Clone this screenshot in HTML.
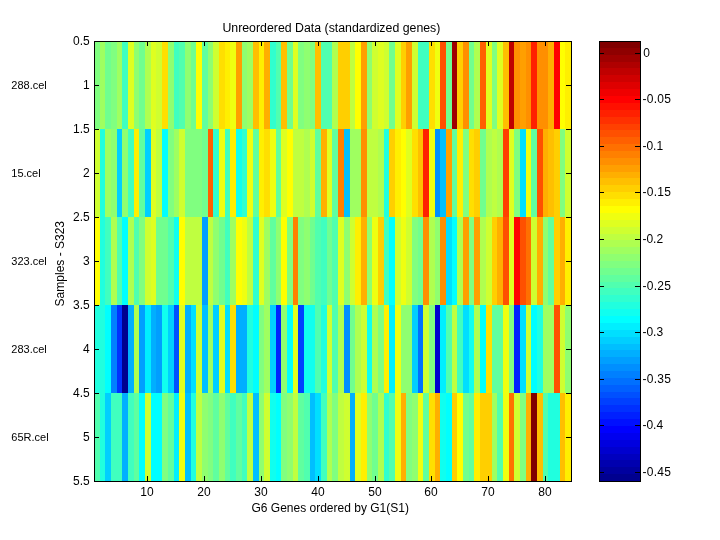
<!DOCTYPE html>
<html><head><meta charset="utf-8"><title>Unreordered Data (standardized genes)</title>
<style>html,body{margin:0;padding:0;background:#fff}body{width:720px;height:540px;overflow:hidden}svg{display:block}text{font-family:"Liberation Sans",Arial,Helvetica,sans-serif;fill:#000}</style>
</head><body>
<svg width="720" height="540" viewBox="0 0 720 540">
<rect x="0" y="0" width="720" height="540" fill="#ffffff"/>
<g shape-rendering="crispEdges">
<rect x="94" y="41" width="6" height="88" fill="#80ff80"/>
<rect x="100" y="41" width="5" height="88" fill="#9fff60"/>
<rect x="105" y="41" width="6" height="88" fill="#70ff8f"/>
<rect x="111" y="41" width="6" height="88" fill="#80ff80"/>
<rect x="117" y="41" width="5" height="88" fill="#9fff60"/>
<rect x="122" y="41" width="6" height="88" fill="#40ffbf"/>
<rect x="128" y="41" width="6" height="88" fill="#dfff20"/>
<rect x="134" y="41" width="5" height="88" fill="#8fff70"/>
<rect x="139" y="41" width="6" height="88" fill="#70ff8f"/>
<rect x="145" y="41" width="6" height="88" fill="#afff50"/>
<rect x="151" y="41" width="5" height="88" fill="#dfff20"/>
<rect x="156" y="41" width="6" height="88" fill="#cfff30"/>
<rect x="162" y="41" width="6" height="88" fill="#ffdf00"/>
<rect x="168" y="41" width="6" height="88" fill="#8fff70"/>
<rect x="174" y="41" width="5" height="88" fill="#40ffbf"/>
<rect x="179" y="41" width="6" height="88" fill="#50ffaf"/>
<rect x="185" y="41" width="6" height="88" fill="#8fff70"/>
<rect x="191" y="41" width="5" height="88" fill="#70ff8f"/>
<rect x="196" y="41" width="6" height="88" fill="#ffff00"/>
<rect x="202" y="41" width="6" height="88" fill="#60ff9f"/>
<rect x="208" y="41" width="5" height="88" fill="#8fff70"/>
<rect x="213" y="41" width="6" height="88" fill="#cfff30"/>
<rect x="219" y="41" width="6" height="88" fill="#ffdf00"/>
<rect x="225" y="41" width="5" height="88" fill="#ffef00"/>
<rect x="230" y="41" width="6" height="88" fill="#efff10"/>
<rect x="236" y="41" width="6" height="88" fill="#ff9f00"/>
<rect x="242" y="41" width="5" height="88" fill="#8fff70"/>
<rect x="247" y="41" width="6" height="88" fill="#9fff60"/>
<rect x="253" y="41" width="6" height="88" fill="#ffbf00"/>
<rect x="259" y="41" width="5" height="88" fill="#ffef00"/>
<rect x="264" y="41" width="6" height="88" fill="#ffaf00"/>
<rect x="270" y="41" width="6" height="88" fill="#30ffcf"/>
<rect x="276" y="41" width="5" height="88" fill="#50ffaf"/>
<rect x="281" y="41" width="6" height="88" fill="#ffbf00"/>
<rect x="287" y="41" width="6" height="88" fill="#70ff8f"/>
<rect x="293" y="41" width="5" height="88" fill="#dfff20"/>
<rect x="298" y="41" width="6" height="88" fill="#80ff80"/>
<rect x="304" y="41" width="6" height="88" fill="#8fff70"/>
<rect x="310" y="41" width="5" height="88" fill="#80ff80"/>
<rect x="315" y="41" width="6" height="88" fill="#ffbf00"/>
<rect x="321" y="41" width="11" height="88" fill="#50ffaf"/>
<rect x="332" y="41" width="6" height="88" fill="#afff50"/>
<rect x="338" y="41" width="12" height="88" fill="#ffcf00"/>
<rect x="350" y="41" width="5" height="88" fill="#bfff40"/>
<rect x="355" y="41" width="6" height="88" fill="#ffff00"/>
<rect x="361" y="41" width="6" height="88" fill="#ff9f00"/>
<rect x="367" y="41" width="5" height="88" fill="#8fff70"/>
<rect x="372" y="41" width="6" height="88" fill="#cfff30"/>
<rect x="378" y="41" width="6" height="88" fill="#dfff20"/>
<rect x="384" y="41" width="5" height="88" fill="#cfff30"/>
<rect x="389" y="41" width="6" height="88" fill="#70ff8f"/>
<rect x="395" y="41" width="6" height="88" fill="#dfff20"/>
<rect x="401" y="41" width="5" height="88" fill="#ffcf00"/>
<rect x="406" y="41" width="6" height="88" fill="#ff9f00"/>
<rect x="412" y="41" width="6" height="88" fill="#cfff30"/>
<rect x="418" y="41" width="11" height="88" fill="#40ffbf"/>
<rect x="429" y="41" width="6" height="88" fill="#ffdf00"/>
<rect x="435" y="41" width="5" height="88" fill="#efff10"/>
<rect x="440" y="41" width="6" height="88" fill="#ff5000"/>
<rect x="446" y="41" width="6" height="88" fill="#70ff8f"/>
<rect x="452" y="41" width="5" height="88" fill="#9f0000"/>
<rect x="457" y="41" width="6" height="88" fill="#ffcf00"/>
<rect x="463" y="41" width="6" height="88" fill="#ff8f00"/>
<rect x="469" y="41" width="5" height="88" fill="#70ff8f"/>
<rect x="474" y="41" width="6" height="88" fill="#afff50"/>
<rect x="480" y="41" width="6" height="88" fill="#ff6000"/>
<rect x="486" y="41" width="6" height="88" fill="#dfff20"/>
<rect x="492" y="41" width="5" height="88" fill="#80ff80"/>
<rect x="497" y="41" width="6" height="88" fill="#dfff20"/>
<rect x="503" y="41" width="6" height="88" fill="#ffbf00"/>
<rect x="509" y="41" width="5" height="88" fill="#bf0000"/>
<rect x="514" y="41" width="6" height="88" fill="#ff8f00"/>
<rect x="520" y="41" width="6" height="88" fill="#ff9f00"/>
<rect x="526" y="41" width="5" height="88" fill="#ff8f00"/>
<rect x="531" y="41" width="6" height="88" fill="#ff2000"/>
<rect x="537" y="41" width="11" height="88" fill="#ff8f00"/>
<rect x="548" y="41" width="6" height="88" fill="#ffaf00"/>
<rect x="554" y="41" width="6" height="88" fill="#ff0000"/>
<rect x="560" y="41" width="5" height="88" fill="#ffff00"/>
<rect x="565" y="41" width="6" height="88" fill="#ffef00"/>
<rect x="94" y="129" width="6" height="88" fill="#cfff30"/>
<rect x="100" y="129" width="5" height="88" fill="#20ffdf"/>
<rect x="105" y="129" width="6" height="88" fill="#9fff60"/>
<rect x="111" y="129" width="6" height="88" fill="#8fff70"/>
<rect x="117" y="129" width="5" height="88" fill="#00cfff"/>
<rect x="122" y="129" width="6" height="88" fill="#8fff70"/>
<rect x="128" y="129" width="6" height="88" fill="#40ffbf"/>
<rect x="134" y="129" width="5" height="88" fill="#ffef00"/>
<rect x="139" y="129" width="6" height="88" fill="#60ff9f"/>
<rect x="145" y="129" width="6" height="88" fill="#00cfff"/>
<rect x="151" y="129" width="5" height="88" fill="#dfff20"/>
<rect x="156" y="129" width="6" height="88" fill="#bfff40"/>
<rect x="162" y="129" width="6" height="88" fill="#00ffff"/>
<rect x="168" y="129" width="6" height="88" fill="#80ff80"/>
<rect x="174" y="129" width="5" height="88" fill="#9fff60"/>
<rect x="179" y="129" width="6" height="88" fill="#cfff30"/>
<rect x="185" y="129" width="17" height="88" fill="#80ff80"/>
<rect x="202" y="129" width="6" height="88" fill="#70ff8f"/>
<rect x="208" y="129" width="5" height="88" fill="#ff6000"/>
<rect x="213" y="129" width="6" height="88" fill="#30ffcf"/>
<rect x="219" y="129" width="6" height="88" fill="#efff10"/>
<rect x="225" y="129" width="5" height="88" fill="#40ffbf"/>
<rect x="230" y="129" width="6" height="88" fill="#ffef00"/>
<rect x="236" y="129" width="6" height="88" fill="#10ffef"/>
<rect x="242" y="129" width="5" height="88" fill="#30ffcf"/>
<rect x="247" y="129" width="6" height="88" fill="#efff10"/>
<rect x="253" y="129" width="6" height="88" fill="#60ff9f"/>
<rect x="259" y="129" width="5" height="88" fill="#ffef00"/>
<rect x="264" y="129" width="6" height="88" fill="#ffdf00"/>
<rect x="270" y="129" width="6" height="88" fill="#efff10"/>
<rect x="276" y="129" width="5" height="88" fill="#60ff9f"/>
<rect x="281" y="129" width="6" height="88" fill="#dfff20"/>
<rect x="287" y="129" width="6" height="88" fill="#ffff00"/>
<rect x="293" y="129" width="11" height="88" fill="#bfff40"/>
<rect x="304" y="129" width="6" height="88" fill="#afff50"/>
<rect x="310" y="129" width="5" height="88" fill="#cfff30"/>
<rect x="315" y="129" width="6" height="88" fill="#60ff9f"/>
<rect x="321" y="129" width="6" height="88" fill="#ffaf00"/>
<rect x="327" y="129" width="5" height="88" fill="#dfff20"/>
<rect x="332" y="129" width="6" height="88" fill="#60ff9f"/>
<rect x="338" y="129" width="6" height="88" fill="#ff8000"/>
<rect x="344" y="129" width="6" height="88" fill="#00bfff"/>
<rect x="350" y="129" width="11" height="88" fill="#9fff60"/>
<rect x="361" y="129" width="6" height="88" fill="#ff8f00"/>
<rect x="367" y="129" width="11" height="88" fill="#bfff40"/>
<rect x="378" y="129" width="6" height="88" fill="#afff50"/>
<rect x="384" y="129" width="5" height="88" fill="#20ffdf"/>
<rect x="389" y="129" width="6" height="88" fill="#ffcf00"/>
<rect x="395" y="129" width="6" height="88" fill="#ffef00"/>
<rect x="401" y="129" width="5" height="88" fill="#ffff00"/>
<rect x="406" y="129" width="6" height="88" fill="#dfff20"/>
<rect x="412" y="129" width="6" height="88" fill="#ffdf00"/>
<rect x="418" y="129" width="5" height="88" fill="#ffbf00"/>
<rect x="423" y="129" width="6" height="88" fill="#ff2000"/>
<rect x="429" y="129" width="6" height="88" fill="#efff10"/>
<rect x="435" y="129" width="5" height="88" fill="#008fff"/>
<rect x="440" y="129" width="6" height="88" fill="#00bfff"/>
<rect x="446" y="129" width="6" height="88" fill="#ff9f00"/>
<rect x="452" y="129" width="5" height="88" fill="#60ff9f"/>
<rect x="457" y="129" width="6" height="88" fill="#ffef00"/>
<rect x="463" y="129" width="6" height="88" fill="#80ff80"/>
<rect x="469" y="129" width="5" height="88" fill="#ffdf00"/>
<rect x="474" y="129" width="6" height="88" fill="#ffcf00"/>
<rect x="480" y="129" width="6" height="88" fill="#70ff8f"/>
<rect x="486" y="129" width="6" height="88" fill="#afff50"/>
<rect x="492" y="129" width="5" height="88" fill="#bfff40"/>
<rect x="497" y="129" width="6" height="88" fill="#afff50"/>
<rect x="503" y="129" width="6" height="88" fill="#ff4000"/>
<rect x="509" y="129" width="5" height="88" fill="#dfff20"/>
<rect x="514" y="129" width="6" height="88" fill="#80ff80"/>
<rect x="520" y="129" width="6" height="88" fill="#00dfff"/>
<rect x="526" y="129" width="5" height="88" fill="#efff10"/>
<rect x="531" y="129" width="6" height="88" fill="#60ff9f"/>
<rect x="537" y="129" width="6" height="88" fill="#ff5000"/>
<rect x="543" y="129" width="5" height="88" fill="#ffaf00"/>
<rect x="548" y="129" width="6" height="88" fill="#ffbf00"/>
<rect x="554" y="129" width="6" height="88" fill="#ffcf00"/>
<rect x="560" y="129" width="5" height="88" fill="#80ff80"/>
<rect x="565" y="129" width="6" height="88" fill="#cfff30"/>
<rect x="94" y="217" width="6" height="88" fill="#ffff00"/>
<rect x="100" y="217" width="5" height="88" fill="#20ffdf"/>
<rect x="105" y="217" width="6" height="88" fill="#40ffbf"/>
<rect x="111" y="217" width="6" height="88" fill="#afff50"/>
<rect x="117" y="217" width="5" height="88" fill="#50ffaf"/>
<rect x="122" y="217" width="6" height="88" fill="#00ffff"/>
<rect x="128" y="217" width="6" height="88" fill="#afff50"/>
<rect x="134" y="217" width="5" height="88" fill="#50ffaf"/>
<rect x="139" y="217" width="6" height="88" fill="#80ff80"/>
<rect x="145" y="217" width="6" height="88" fill="#cfff30"/>
<rect x="151" y="217" width="5" height="88" fill="#dfff20"/>
<rect x="156" y="217" width="12" height="88" fill="#70ff8f"/>
<rect x="168" y="217" width="6" height="88" fill="#50ffaf"/>
<rect x="174" y="217" width="5" height="88" fill="#10ffef"/>
<rect x="179" y="217" width="6" height="88" fill="#ffff00"/>
<rect x="185" y="217" width="17" height="88" fill="#bfff40"/>
<rect x="202" y="217" width="6" height="88" fill="#009fff"/>
<rect x="208" y="217" width="5" height="88" fill="#bfff40"/>
<rect x="213" y="217" width="6" height="88" fill="#8fff70"/>
<rect x="219" y="217" width="6" height="88" fill="#70ff8f"/>
<rect x="225" y="217" width="5" height="88" fill="#40ffbf"/>
<rect x="230" y="217" width="6" height="88" fill="#9fff60"/>
<rect x="236" y="217" width="6" height="88" fill="#ffff00"/>
<rect x="242" y="217" width="5" height="88" fill="#efff10"/>
<rect x="247" y="217" width="6" height="88" fill="#bfff40"/>
<rect x="253" y="217" width="6" height="88" fill="#30ffcf"/>
<rect x="259" y="217" width="5" height="88" fill="#dfff20"/>
<rect x="264" y="217" width="6" height="88" fill="#9fff60"/>
<rect x="270" y="217" width="6" height="88" fill="#60ff9f"/>
<rect x="276" y="217" width="5" height="88" fill="#8fff70"/>
<rect x="281" y="217" width="6" height="88" fill="#ffff00"/>
<rect x="287" y="217" width="6" height="88" fill="#80ff80"/>
<rect x="293" y="217" width="5" height="88" fill="#ff8000"/>
<rect x="298" y="217" width="6" height="88" fill="#80ff80"/>
<rect x="304" y="217" width="6" height="88" fill="#8fff70"/>
<rect x="310" y="217" width="5" height="88" fill="#70ff8f"/>
<rect x="315" y="217" width="6" height="88" fill="#50ffaf"/>
<rect x="321" y="217" width="6" height="88" fill="#40ffbf"/>
<rect x="327" y="217" width="5" height="88" fill="#70ff8f"/>
<rect x="332" y="217" width="6" height="88" fill="#50ffaf"/>
<rect x="338" y="217" width="6" height="88" fill="#dfff20"/>
<rect x="344" y="217" width="6" height="88" fill="#8fff70"/>
<rect x="350" y="217" width="5" height="88" fill="#cfff30"/>
<rect x="355" y="217" width="6" height="88" fill="#ffef00"/>
<rect x="361" y="217" width="6" height="88" fill="#ffaf00"/>
<rect x="367" y="217" width="5" height="88" fill="#8fff70"/>
<rect x="372" y="217" width="6" height="88" fill="#efff10"/>
<rect x="378" y="217" width="6" height="88" fill="#ffcf00"/>
<rect x="384" y="217" width="5" height="88" fill="#40ffbf"/>
<rect x="389" y="217" width="6" height="88" fill="#00ffff"/>
<rect x="395" y="217" width="6" height="88" fill="#cfff30"/>
<rect x="401" y="217" width="5" height="88" fill="#efff10"/>
<rect x="406" y="217" width="6" height="88" fill="#cfff30"/>
<rect x="412" y="217" width="6" height="88" fill="#80ff80"/>
<rect x="418" y="217" width="5" height="88" fill="#70ff8f"/>
<rect x="423" y="217" width="6" height="88" fill="#ff8f00"/>
<rect x="429" y="217" width="6" height="88" fill="#afff50"/>
<rect x="435" y="217" width="5" height="88" fill="#8fff70"/>
<rect x="440" y="217" width="6" height="88" fill="#ff8f00"/>
<rect x="446" y="217" width="6" height="88" fill="#00dfff"/>
<rect x="452" y="217" width="5" height="88" fill="#00ffff"/>
<rect x="457" y="217" width="6" height="88" fill="#afff50"/>
<rect x="463" y="217" width="6" height="88" fill="#ff9f00"/>
<rect x="469" y="217" width="5" height="88" fill="#80ff80"/>
<rect x="474" y="217" width="6" height="88" fill="#ff9f00"/>
<rect x="480" y="217" width="6" height="88" fill="#afff50"/>
<rect x="486" y="217" width="6" height="88" fill="#cfff30"/>
<rect x="492" y="217" width="5" height="88" fill="#ffcf00"/>
<rect x="497" y="217" width="6" height="88" fill="#ffaf00"/>
<rect x="503" y="217" width="6" height="88" fill="#ff5000"/>
<rect x="509" y="217" width="5" height="88" fill="#dfff20"/>
<rect x="514" y="217" width="6" height="88" fill="#ff0000"/>
<rect x="520" y="217" width="6" height="88" fill="#ff5000"/>
<rect x="526" y="217" width="5" height="88" fill="#ff7000"/>
<rect x="531" y="217" width="6" height="88" fill="#cfff30"/>
<rect x="537" y="217" width="6" height="88" fill="#ffaf00"/>
<rect x="543" y="217" width="5" height="88" fill="#8fff70"/>
<rect x="548" y="217" width="6" height="88" fill="#60ff9f"/>
<rect x="554" y="217" width="6" height="88" fill="#ffcf00"/>
<rect x="560" y="217" width="5" height="88" fill="#ffaf00"/>
<rect x="565" y="217" width="6" height="88" fill="#ffef00"/>
<rect x="94" y="305" width="11" height="88" fill="#20ffdf"/>
<rect x="105" y="305" width="6" height="88" fill="#00ffff"/>
<rect x="111" y="305" width="6" height="88" fill="#0080ff"/>
<rect x="117" y="305" width="5" height="88" fill="#0030ff"/>
<rect x="122" y="305" width="6" height="88" fill="#00008f"/>
<rect x="128" y="305" width="6" height="88" fill="#00afff"/>
<rect x="134" y="305" width="5" height="88" fill="#afff50"/>
<rect x="139" y="305" width="6" height="88" fill="#009fff"/>
<rect x="145" y="305" width="6" height="88" fill="#00efff"/>
<rect x="151" y="305" width="5" height="88" fill="#00afff"/>
<rect x="156" y="305" width="6" height="88" fill="#009fff"/>
<rect x="162" y="305" width="6" height="88" fill="#10ffef"/>
<rect x="168" y="305" width="6" height="88" fill="#00cfff"/>
<rect x="174" y="305" width="5" height="88" fill="#0050ff"/>
<rect x="179" y="305" width="6" height="88" fill="#dfff20"/>
<rect x="185" y="305" width="6" height="88" fill="#00afff"/>
<rect x="191" y="305" width="5" height="88" fill="#00dfff"/>
<rect x="196" y="305" width="6" height="88" fill="#cfff30"/>
<rect x="202" y="305" width="6" height="88" fill="#00bfff"/>
<rect x="208" y="305" width="5" height="88" fill="#9fff60"/>
<rect x="213" y="305" width="6" height="88" fill="#00cfff"/>
<rect x="219" y="305" width="6" height="88" fill="#dfff20"/>
<rect x="225" y="305" width="5" height="88" fill="#00dfff"/>
<rect x="230" y="305" width="6" height="88" fill="#ffdf00"/>
<rect x="236" y="305" width="11" height="88" fill="#00afff"/>
<rect x="247" y="305" width="6" height="88" fill="#20ffdf"/>
<rect x="253" y="305" width="6" height="88" fill="#00ffff"/>
<rect x="259" y="305" width="5" height="88" fill="#80ff80"/>
<rect x="264" y="305" width="6" height="88" fill="#9fff60"/>
<rect x="270" y="305" width="6" height="88" fill="#00cfff"/>
<rect x="276" y="305" width="5" height="88" fill="#0020ff"/>
<rect x="281" y="305" width="6" height="88" fill="#8fff70"/>
<rect x="287" y="305" width="6" height="88" fill="#00ffff"/>
<rect x="293" y="305" width="5" height="88" fill="#dfff20"/>
<rect x="298" y="305" width="6" height="88" fill="#0040ff"/>
<rect x="304" y="305" width="11" height="88" fill="#10ffef"/>
<rect x="315" y="305" width="6" height="88" fill="#50ffaf"/>
<rect x="321" y="305" width="6" height="88" fill="#20ffdf"/>
<rect x="327" y="305" width="5" height="88" fill="#cfff30"/>
<rect x="332" y="305" width="6" height="88" fill="#50ffaf"/>
<rect x="338" y="305" width="6" height="88" fill="#afff50"/>
<rect x="344" y="305" width="6" height="88" fill="#008fff"/>
<rect x="350" y="305" width="5" height="88" fill="#70ff8f"/>
<rect x="355" y="305" width="6" height="88" fill="#afff50"/>
<rect x="361" y="305" width="6" height="88" fill="#cfff30"/>
<rect x="367" y="305" width="5" height="88" fill="#10ffef"/>
<rect x="372" y="305" width="6" height="88" fill="#afff50"/>
<rect x="378" y="305" width="6" height="88" fill="#80ff80"/>
<rect x="384" y="305" width="5" height="88" fill="#ffef00"/>
<rect x="389" y="305" width="6" height="88" fill="#00efff"/>
<rect x="395" y="305" width="6" height="88" fill="#efff10"/>
<rect x="401" y="305" width="11" height="88" fill="#8fff70"/>
<rect x="412" y="305" width="6" height="88" fill="#00cfff"/>
<rect x="418" y="305" width="5" height="88" fill="#0070ff"/>
<rect x="423" y="305" width="6" height="88" fill="#cfff30"/>
<rect x="429" y="305" width="6" height="88" fill="#80ff80"/>
<rect x="435" y="305" width="5" height="88" fill="#0000cf"/>
<rect x="440" y="305" width="6" height="88" fill="#00efff"/>
<rect x="446" y="305" width="6" height="88" fill="#50ffaf"/>
<rect x="452" y="305" width="5" height="88" fill="#bfff40"/>
<rect x="457" y="305" width="6" height="88" fill="#40ffbf"/>
<rect x="463" y="305" width="6" height="88" fill="#00dfff"/>
<rect x="469" y="305" width="5" height="88" fill="#10ffef"/>
<rect x="474" y="305" width="6" height="88" fill="#afff50"/>
<rect x="480" y="305" width="6" height="88" fill="#00ffff"/>
<rect x="486" y="305" width="6" height="88" fill="#ffdf00"/>
<rect x="492" y="305" width="11" height="88" fill="#60ff9f"/>
<rect x="503" y="305" width="6" height="88" fill="#efff10"/>
<rect x="509" y="305" width="5" height="88" fill="#80ff80"/>
<rect x="514" y="305" width="6" height="88" fill="#0020ff"/>
<rect x="520" y="305" width="6" height="88" fill="#00dfff"/>
<rect x="526" y="305" width="5" height="88" fill="#cfff30"/>
<rect x="531" y="305" width="6" height="88" fill="#00ffff"/>
<rect x="537" y="305" width="6" height="88" fill="#20ffdf"/>
<rect x="543" y="305" width="11" height="88" fill="#9fff60"/>
<rect x="554" y="305" width="6" height="88" fill="#ff5000"/>
<rect x="560" y="305" width="5" height="88" fill="#cfff30"/>
<rect x="565" y="305" width="6" height="88" fill="#8fff70"/>
<rect x="94" y="393" width="6" height="88" fill="#50ffaf"/>
<rect x="100" y="393" width="5" height="88" fill="#20ffdf"/>
<rect x="105" y="393" width="6" height="88" fill="#00cfff"/>
<rect x="111" y="393" width="11" height="88" fill="#40ffbf"/>
<rect x="122" y="393" width="6" height="88" fill="#00afff"/>
<rect x="128" y="393" width="6" height="88" fill="#40ffbf"/>
<rect x="134" y="393" width="5" height="88" fill="#60ff9f"/>
<rect x="139" y="393" width="6" height="88" fill="#00ffff"/>
<rect x="145" y="393" width="6" height="88" fill="#cfff30"/>
<rect x="151" y="393" width="11" height="88" fill="#00ffff"/>
<rect x="162" y="393" width="6" height="88" fill="#80ff80"/>
<rect x="168" y="393" width="6" height="88" fill="#60ff9f"/>
<rect x="174" y="393" width="5" height="88" fill="#00efff"/>
<rect x="179" y="393" width="6" height="88" fill="#efff10"/>
<rect x="185" y="393" width="6" height="88" fill="#00bfff"/>
<rect x="191" y="393" width="5" height="88" fill="#20ffdf"/>
<rect x="196" y="393" width="6" height="88" fill="#bfff40"/>
<rect x="202" y="393" width="6" height="88" fill="#8fff70"/>
<rect x="208" y="393" width="5" height="88" fill="#80ff80"/>
<rect x="213" y="393" width="6" height="88" fill="#60ff9f"/>
<rect x="219" y="393" width="6" height="88" fill="#8fff70"/>
<rect x="225" y="393" width="5" height="88" fill="#60ff9f"/>
<rect x="230" y="393" width="6" height="88" fill="#40ffbf"/>
<rect x="236" y="393" width="6" height="88" fill="#60ff9f"/>
<rect x="242" y="393" width="5" height="88" fill="#40ffbf"/>
<rect x="247" y="393" width="6" height="88" fill="#bfff40"/>
<rect x="253" y="393" width="6" height="88" fill="#00bfff"/>
<rect x="259" y="393" width="5" height="88" fill="#8fff70"/>
<rect x="264" y="393" width="6" height="88" fill="#cfff30"/>
<rect x="270" y="393" width="6" height="88" fill="#10ffef"/>
<rect x="276" y="393" width="5" height="88" fill="#00ffff"/>
<rect x="281" y="393" width="6" height="88" fill="#80ff80"/>
<rect x="287" y="393" width="6" height="88" fill="#8fff70"/>
<rect x="293" y="393" width="5" height="88" fill="#bfff40"/>
<rect x="298" y="393" width="6" height="88" fill="#60ff9f"/>
<rect x="304" y="393" width="6" height="88" fill="#50ffaf"/>
<rect x="310" y="393" width="5" height="88" fill="#00bfff"/>
<rect x="315" y="393" width="6" height="88" fill="#00dfff"/>
<rect x="321" y="393" width="6" height="88" fill="#40ffbf"/>
<rect x="327" y="393" width="5" height="88" fill="#afff50"/>
<rect x="332" y="393" width="6" height="88" fill="#80ff80"/>
<rect x="338" y="393" width="6" height="88" fill="#bfff40"/>
<rect x="344" y="393" width="6" height="88" fill="#cfff30"/>
<rect x="350" y="393" width="5" height="88" fill="#00afff"/>
<rect x="355" y="393" width="6" height="88" fill="#dfff20"/>
<rect x="361" y="393" width="6" height="88" fill="#ffef00"/>
<rect x="367" y="393" width="5" height="88" fill="#8fff70"/>
<rect x="372" y="393" width="6" height="88" fill="#70ff8f"/>
<rect x="378" y="393" width="6" height="88" fill="#afff50"/>
<rect x="384" y="393" width="5" height="88" fill="#30ffcf"/>
<rect x="389" y="393" width="6" height="88" fill="#50ffaf"/>
<rect x="395" y="393" width="6" height="88" fill="#efff10"/>
<rect x="401" y="393" width="5" height="88" fill="#ffaf00"/>
<rect x="406" y="393" width="6" height="88" fill="#80ff80"/>
<rect x="412" y="393" width="6" height="88" fill="#8fff70"/>
<rect x="418" y="393" width="5" height="88" fill="#efff10"/>
<rect x="423" y="393" width="6" height="88" fill="#60ff9f"/>
<rect x="429" y="393" width="6" height="88" fill="#ffdf00"/>
<rect x="435" y="393" width="5" height="88" fill="#ffaf00"/>
<rect x="440" y="393" width="6" height="88" fill="#10ffef"/>
<rect x="446" y="393" width="6" height="88" fill="#00ffff"/>
<rect x="452" y="393" width="5" height="88" fill="#ffcf00"/>
<rect x="457" y="393" width="6" height="88" fill="#ffff00"/>
<rect x="463" y="393" width="6" height="88" fill="#70ff8f"/>
<rect x="469" y="393" width="5" height="88" fill="#60ff9f"/>
<rect x="474" y="393" width="6" height="88" fill="#ffef00"/>
<rect x="480" y="393" width="12" height="88" fill="#ffcf00"/>
<rect x="492" y="393" width="5" height="88" fill="#9fff60"/>
<rect x="497" y="393" width="6" height="88" fill="#50ffaf"/>
<rect x="503" y="393" width="6" height="88" fill="#efff10"/>
<rect x="509" y="393" width="5" height="88" fill="#ff7000"/>
<rect x="514" y="393" width="6" height="88" fill="#cfff30"/>
<rect x="520" y="393" width="6" height="88" fill="#80ff80"/>
<rect x="526" y="393" width="5" height="88" fill="#ffaf00"/>
<rect x="531" y="393" width="6" height="88" fill="#800000"/>
<rect x="537" y="393" width="6" height="88" fill="#ffbf00"/>
<rect x="543" y="393" width="5" height="88" fill="#50ffaf"/>
<rect x="548" y="393" width="12" height="88" fill="#20ffdf"/>
<rect x="560" y="393" width="5" height="88" fill="#ffbf00"/>
<rect x="565" y="393" width="6" height="88" fill="#ffef00"/>
</g>
<g shape-rendering="crispEdges">
<rect x="599" y="474" width="42" height="7" fill="#00008f"/>
<rect x="599" y="467" width="42" height="7" fill="#00009f"/>
<rect x="599" y="460" width="42" height="7" fill="#0000af"/>
<rect x="599" y="454" width="42" height="6" fill="#0000bf"/>
<rect x="599" y="447" width="42" height="7" fill="#0000cf"/>
<rect x="599" y="440" width="42" height="7" fill="#0000df"/>
<rect x="599" y="433" width="42" height="7" fill="#0000ef"/>
<rect x="599" y="426" width="42" height="7" fill="#0000ff"/>
<rect x="599" y="419" width="42" height="7" fill="#0010ff"/>
<rect x="599" y="412" width="42" height="7" fill="#0020ff"/>
<rect x="599" y="405" width="42" height="7" fill="#0030ff"/>
<rect x="599" y="398" width="42" height="7" fill="#0040ff"/>
<rect x="599" y="392" width="42" height="6" fill="#0050ff"/>
<rect x="599" y="385" width="42" height="7" fill="#0060ff"/>
<rect x="599" y="378" width="42" height="7" fill="#0070ff"/>
<rect x="599" y="371" width="42" height="7" fill="#0080ff"/>
<rect x="599" y="364" width="42" height="7" fill="#008fff"/>
<rect x="599" y="357" width="42" height="7" fill="#009fff"/>
<rect x="599" y="350" width="42" height="7" fill="#00afff"/>
<rect x="599" y="344" width="42" height="6" fill="#00bfff"/>
<rect x="599" y="337" width="42" height="7" fill="#00cfff"/>
<rect x="599" y="330" width="42" height="7" fill="#00dfff"/>
<rect x="599" y="323" width="42" height="7" fill="#00efff"/>
<rect x="599" y="316" width="42" height="7" fill="#00ffff"/>
<rect x="599" y="309" width="42" height="7" fill="#10ffef"/>
<rect x="599" y="302" width="42" height="7" fill="#20ffdf"/>
<rect x="599" y="295" width="42" height="7" fill="#30ffcf"/>
<rect x="599" y="288" width="42" height="7" fill="#40ffbf"/>
<rect x="599" y="282" width="42" height="6" fill="#50ffaf"/>
<rect x="599" y="275" width="42" height="7" fill="#60ff9f"/>
<rect x="599" y="268" width="42" height="7" fill="#70ff8f"/>
<rect x="599" y="261" width="42" height="7" fill="#80ff80"/>
<rect x="599" y="254" width="42" height="7" fill="#8fff70"/>
<rect x="599" y="247" width="42" height="7" fill="#9fff60"/>
<rect x="599" y="240" width="42" height="7" fill="#afff50"/>
<rect x="599" y="234" width="42" height="6" fill="#bfff40"/>
<rect x="599" y="227" width="42" height="7" fill="#cfff30"/>
<rect x="599" y="220" width="42" height="7" fill="#dfff20"/>
<rect x="599" y="213" width="42" height="7" fill="#efff10"/>
<rect x="599" y="206" width="42" height="7" fill="#ffff00"/>
<rect x="599" y="199" width="42" height="7" fill="#ffef00"/>
<rect x="599" y="192" width="42" height="7" fill="#ffdf00"/>
<rect x="599" y="185" width="42" height="7" fill="#ffcf00"/>
<rect x="599" y="178" width="42" height="7" fill="#ffbf00"/>
<rect x="599" y="172" width="42" height="6" fill="#ffaf00"/>
<rect x="599" y="165" width="42" height="7" fill="#ff9f00"/>
<rect x="599" y="158" width="42" height="7" fill="#ff8f00"/>
<rect x="599" y="151" width="42" height="7" fill="#ff8000"/>
<rect x="599" y="144" width="42" height="7" fill="#ff7000"/>
<rect x="599" y="137" width="42" height="7" fill="#ff6000"/>
<rect x="599" y="130" width="42" height="7" fill="#ff5000"/>
<rect x="599" y="124" width="42" height="6" fill="#ff4000"/>
<rect x="599" y="117" width="42" height="7" fill="#ff3000"/>
<rect x="599" y="110" width="42" height="7" fill="#ff2000"/>
<rect x="599" y="103" width="42" height="7" fill="#ff1000"/>
<rect x="599" y="96" width="42" height="7" fill="#ff0000"/>
<rect x="599" y="89" width="42" height="7" fill="#ef0000"/>
<rect x="599" y="82" width="42" height="7" fill="#df0000"/>
<rect x="599" y="75" width="42" height="7" fill="#cf0000"/>
<rect x="599" y="68" width="42" height="7" fill="#bf0000"/>
<rect x="599" y="62" width="42" height="6" fill="#af0000"/>
<rect x="599" y="55" width="42" height="7" fill="#9f0000"/>
<rect x="599" y="48" width="42" height="7" fill="#8f0000"/>
<rect x="599" y="41" width="42" height="7" fill="#800000"/>
</g>
<g fill="#000" shape-rendering="crispEdges">
<rect x="94" y="41" width="478" height="1"/>
<rect x="94" y="481" width="478" height="1"/>
<rect x="94" y="41" width="1" height="441"/>
<rect x="571" y="41" width="1" height="441"/>
<rect x="599" y="41" width="42" height="1"/>
<rect x="599" y="481" width="42" height="1"/>
<rect x="599" y="41" width="1" height="441"/>
<rect x="640" y="41" width="1" height="441"/>
<rect x="147" y="476" width="1" height="5"/>
<rect x="147" y="42" width="1" height="4"/>
<rect x="204" y="476" width="1" height="5"/>
<rect x="204" y="42" width="1" height="4"/>
<rect x="261" y="476" width="1" height="5"/>
<rect x="261" y="42" width="1" height="4"/>
<rect x="318" y="476" width="1" height="5"/>
<rect x="318" y="42" width="1" height="4"/>
<rect x="375" y="476" width="1" height="5"/>
<rect x="375" y="42" width="1" height="4"/>
<rect x="431" y="476" width="1" height="5"/>
<rect x="431" y="42" width="1" height="4"/>
<rect x="488" y="476" width="1" height="5"/>
<rect x="488" y="42" width="1" height="4"/>
<rect x="545" y="476" width="1" height="5"/>
<rect x="545" y="42" width="1" height="4"/>
<rect x="95" y="85" width="4" height="1"/>
<rect x="566" y="85" width="5" height="1"/>
<rect x="95" y="129" width="4" height="1"/>
<rect x="566" y="129" width="5" height="1"/>
<rect x="95" y="173" width="4" height="1"/>
<rect x="566" y="173" width="5" height="1"/>
<rect x="95" y="217" width="4" height="1"/>
<rect x="566" y="217" width="5" height="1"/>
<rect x="95" y="261" width="4" height="1"/>
<rect x="566" y="261" width="5" height="1"/>
<rect x="95" y="305" width="4" height="1"/>
<rect x="566" y="305" width="5" height="1"/>
<rect x="95" y="349" width="4" height="1"/>
<rect x="566" y="349" width="5" height="1"/>
<rect x="95" y="393" width="4" height="1"/>
<rect x="566" y="393" width="5" height="1"/>
<rect x="95" y="437" width="4" height="1"/>
<rect x="566" y="437" width="5" height="1"/>
<rect x="600" y="53" width="4" height="1"/>
<rect x="635" y="53" width="5" height="1"/>
<rect x="600" y="99" width="4" height="1"/>
<rect x="635" y="99" width="5" height="1"/>
<rect x="600" y="146" width="4" height="1"/>
<rect x="635" y="146" width="5" height="1"/>
<rect x="600" y="192" width="4" height="1"/>
<rect x="635" y="192" width="5" height="1"/>
<rect x="600" y="239" width="4" height="1"/>
<rect x="635" y="239" width="5" height="1"/>
<rect x="600" y="286" width="4" height="1"/>
<rect x="635" y="286" width="5" height="1"/>
<rect x="600" y="332" width="4" height="1"/>
<rect x="635" y="332" width="5" height="1"/>
<rect x="600" y="379" width="4" height="1"/>
<rect x="635" y="379" width="5" height="1"/>
<rect x="600" y="425" width="4" height="1"/>
<rect x="635" y="425" width="5" height="1"/>
<rect x="600" y="472" width="4" height="1"/>
<rect x="635" y="472" width="5" height="1"/>
</g>
<g font-size="12">
<text x="331.4" y="31.7" text-anchor="middle" textLength="218" lengthAdjust="spacingAndGlyphs">Unreordered Data (standardized genes)</text>
<text x="330.2" y="511.7" text-anchor="middle">G6 Genes ordered by G1(S1)</text>
<text transform="translate(63.5,263.7) rotate(-90)" text-anchor="middle">Samples - S323</text>
<text x="147" y="496" text-anchor="middle">10</text>
<text x="204" y="496" text-anchor="middle">20</text>
<text x="261" y="496" text-anchor="middle">30</text>
<text x="318" y="496" text-anchor="middle">40</text>
<text x="375" y="496" text-anchor="middle">50</text>
<text x="431" y="496" text-anchor="middle">60</text>
<text x="488" y="496" text-anchor="middle">70</text>
<text x="545" y="496" text-anchor="middle">80</text>
<text x="89.8" y="45" text-anchor="end">0.5</text>
<text x="89.8" y="89" text-anchor="end">1</text>
<text x="89.8" y="133" text-anchor="end">1.5</text>
<text x="89.8" y="177" text-anchor="end">2</text>
<text x="89.8" y="221" text-anchor="end">2.5</text>
<text x="89.8" y="265" text-anchor="end">3</text>
<text x="89.8" y="309" text-anchor="end">3.5</text>
<text x="89.8" y="353" text-anchor="end">4</text>
<text x="89.8" y="397" text-anchor="end">4.5</text>
<text x="89.8" y="441" text-anchor="end">5</text>
<text x="89.8" y="485" text-anchor="end">5.5</text>
<text x="643.3" y="57">0</text>
<text x="642.4" y="103" letter-spacing="0.3">-0.05</text>
<text x="642.4" y="150">-0.1</text>
<text x="642.4" y="196" letter-spacing="0.3">-0.15</text>
<text x="642.4" y="243">-0.2</text>
<text x="642.4" y="290" letter-spacing="0.3">-0.25</text>
<text x="642.4" y="336">-0.3</text>
<text x="642.4" y="383" letter-spacing="0.3">-0.35</text>
<text x="642.4" y="429">-0.4</text>
<text x="642.4" y="476" letter-spacing="0.3">-0.45</text>
</g>
<g font-size="11">
<text x="11.3" y="89">288.cel</text>
<text x="11.3" y="177">15.cel</text>
<text x="11.3" y="265">323.cel</text>
<text x="11.3" y="353">283.cel</text>
<text x="11.3" y="441">65R.cel</text>
</g>
</svg></body></html>
